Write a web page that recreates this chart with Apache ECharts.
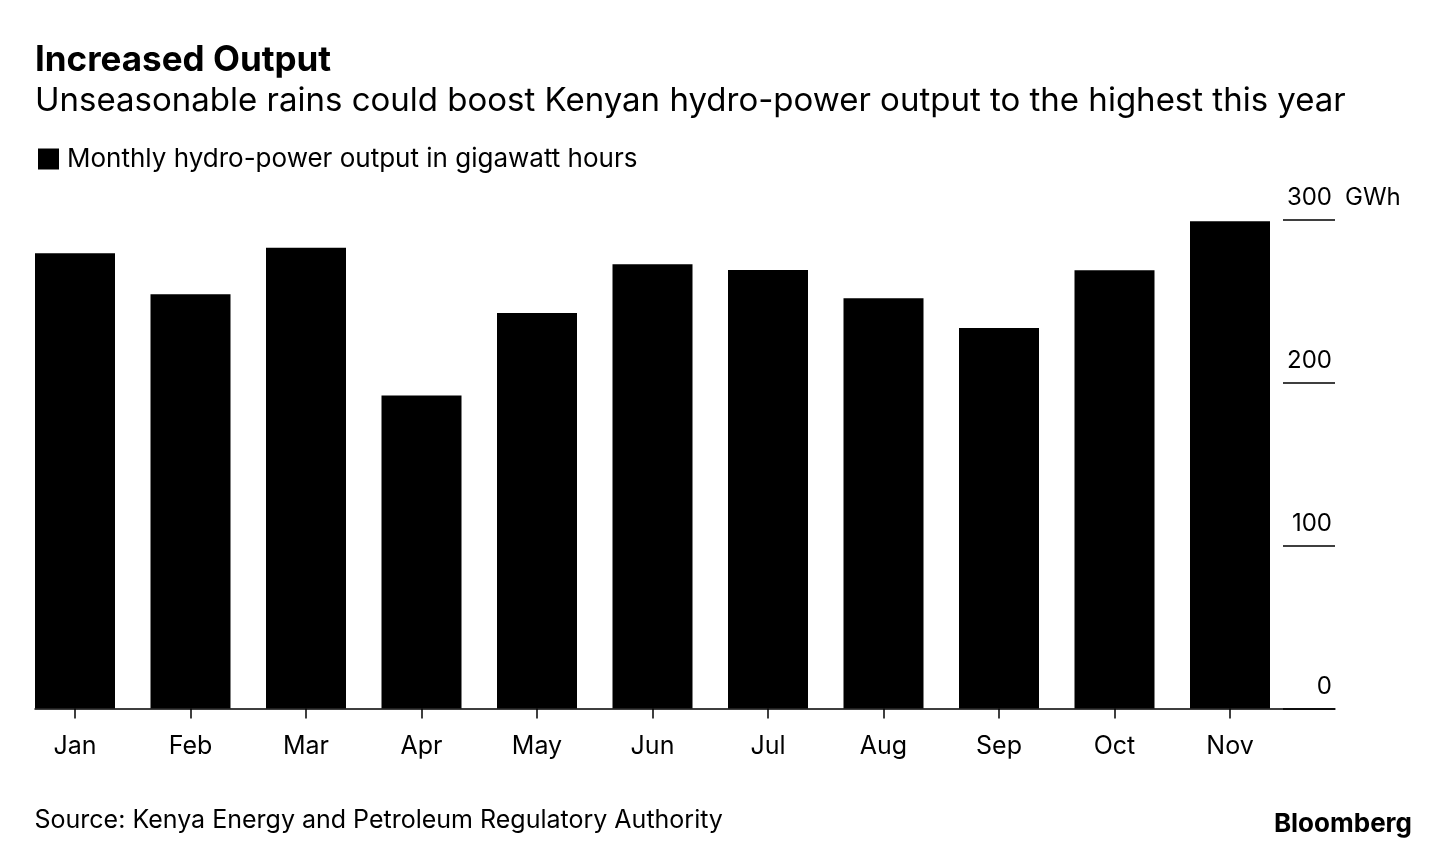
<!DOCTYPE html>
<html>
<head>
<meta charset="utf-8">
<script src="https://cdn.jsdelivr.net/npm/echarts@6/dist/echarts.min.js"></script>
<style>
html,body{margin:0;padding:0;background:#fff;}
#c{width:1439px;height:850px;}
</style>
</head>
<body>
<div id="c"></div>
<script>
var months = ['Jan','Feb','Mar','Apr','May','Jun','Jul','Aug','Sep','Oct','Nov'];
var output = [279.6, 254.4, 283.0, 192.2, 242.9, 272.8, 269.3, 252.0, 233.7, 269.1, 299.2];
var yTicks = [0, 100, 200, 300];
var seriesName = 'Monthly hydro-power output in gigawatt hours';

var FONT = 'Inter, "Liberation Sans", Arial, sans-serif';
var chart = echarts.init(document.getElementById('c'));
chart.setOption({
  backgroundColor: '#fff',
  animation: false,
  textStyle: {fontFamily: FONT, color: '#000'},
  title: [
    {text: 'Increased Output', left: 30, top: 38,
     textStyle: {fontFamily: FONT, fontSize: 35, fontWeight: 'bold', color: '#000'}},
    {text: 'Unseasonable rains could boost Kenyan hydro-power output to the highest this year', left: 30, top: 80,
     textStyle: {fontFamily: FONT, fontSize: 33, fontWeight: 'normal', color: '#000'}},
    {text: 'Source: Kenya Energy and Petroleum Regulatory Authority', left: 29.5, top: 803,
     textStyle: {fontFamily: FONT, fontSize: 25, fontWeight: 'normal', color: '#000'}},
    {text: 'Bloomberg', right: 22, top: 806,
     textStyle: {fontFamily: FONT, fontSize: 26, fontWeight: 'bold', color: '#000'}}
  ],
  legend: {
    left: 33, top: 141, icon: 'rect', itemWidth: 21, itemHeight: 21, itemGap: 10,
    textStyle: {fontFamily: FONT, fontSize: 26, color: '#000', padding: [0,0,0,3]},
    data: [seriesName]
  },
  grid: [
    {left: 17.25, right: 151.25, top: 220, bottom: 141.5},
    {left: 35, right: 104, top: 220, bottom: 141.5}
  ],
  xAxis: [
    {type: 'category', gridIndex: 0, data: months,
     axisLine: {show: false},
     axisTick: {show: true, alignWithLabel: true, length: 10, lineStyle: {color: '#000', width: 1.5}},
     axisLabel: {fontFamily: FONT, fontSize: 25, color: '#000', margin: 25}},
    {type: 'value', gridIndex: 1, min: 0, max: 1,
     axisLine: {show: true, onZero: false, lineStyle: {color: '#000', width: 1.5}},
     axisTick: {show: false}, axisLabel: {show: false}, splitLine: {show: false}}
  ],
  yAxis: [
    {type: 'value', gridIndex: 0, min: 0, max: 300, interval: 100, show: false, splitLine: {show: false}},
    {type: 'value', gridIndex: 1, min: 0, max: 300, interval: 100, position: 'right',
     axisLine: {show: false, onZero: false},
     axisTick: {show: true, inside: true, length: 52, lineStyle: {color: '#000', width: 1.5}},
     splitLine: {show: false},
     axisLabel: {inside: true, margin: 3, fontFamily: FONT, fontSize: 24, color: '#000',
       verticalAlign: 'bottom', lineHeight: 24, padding: [0,0,10,0],
       customValues: yTicks},
     name: 'GWh', nameLocation: 'end', nameGap: 22, nameMoveOverlap: false,
     nameTextStyle: {fontFamily: FONT, fontSize: 24, color: '#000', align: 'left', verticalAlign: 'middle',
       lineHeight: 24, padding: [0,0,0,10]}}
  ],
  series: [
    {name: seriesName, type: 'bar', xAxisIndex: 0, yAxisIndex: 0, data: output,
     barWidth: 80, itemStyle: {color: '#000'}}
  ]
});
</script>
</body>
</html>
